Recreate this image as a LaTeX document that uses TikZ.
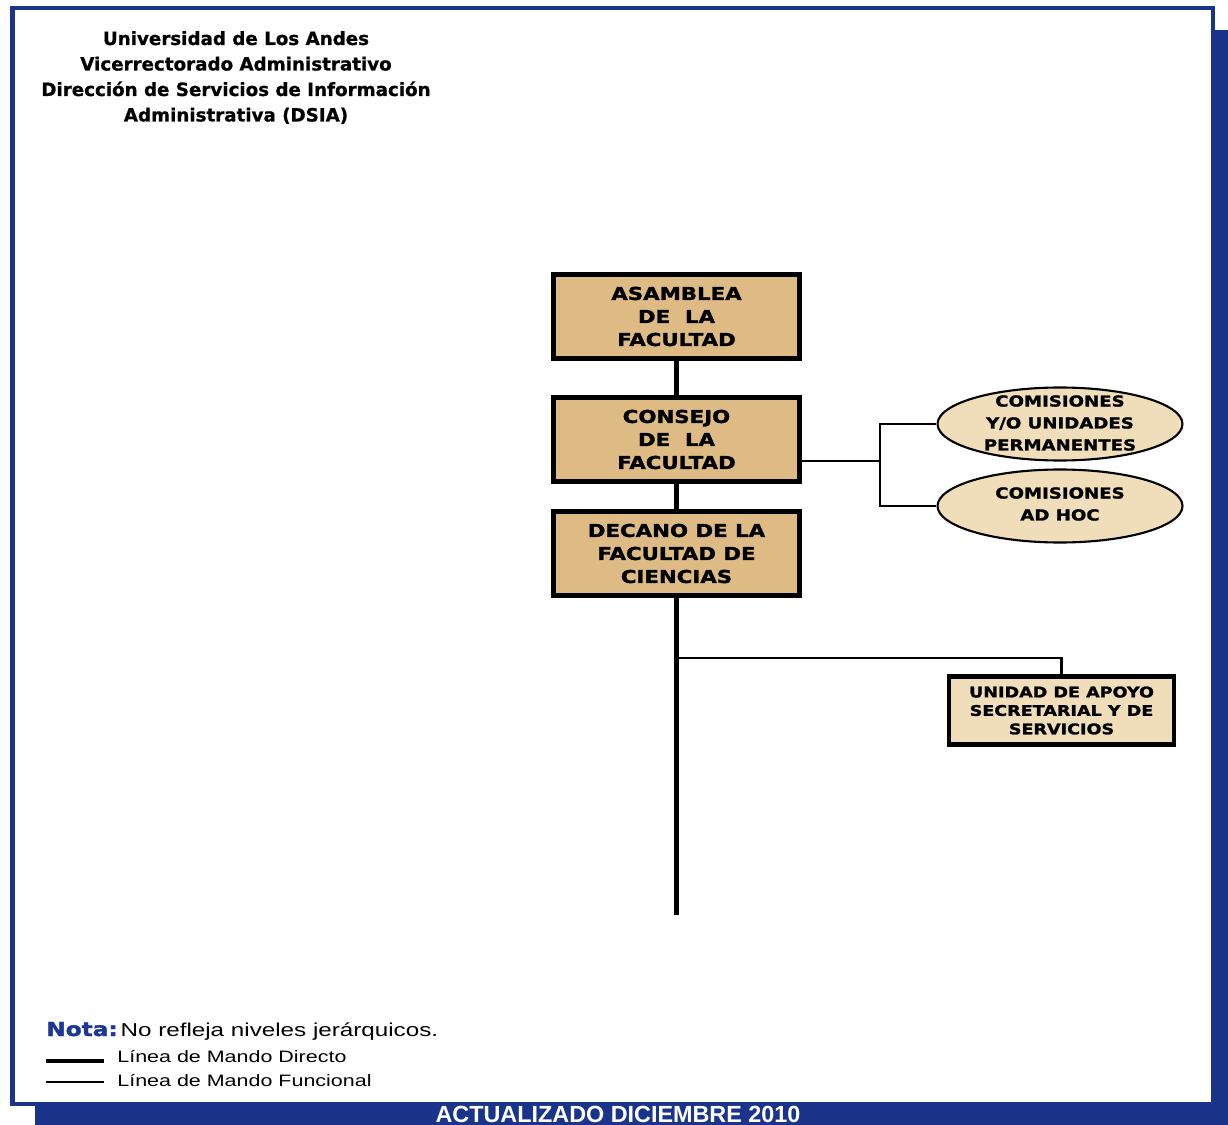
\documentclass[tikz,border=0pt]{standalone}
\usepackage{fontspec}
\setmainfont{Liberation Sans}
\newfontfamily\boxfont{DejaVu Sans}[FakeStretch=1.2,FakeBold=1.6]
\newfontfamily\headfont{DejaVu Sans}[FakeBold=0.8]
\newfontfamily\notefont{Liberation Sans}[FakeStretch=1.3]
\newfontfamily\footfont{Liberation Sans}
\usetikzlibrary{shapes.geometric}
\definecolor{frameblue}{RGB}{26,52,140}
\definecolor{notablue}{RGB}{30,55,150}
\definecolor{boxtan}{RGB}{222,187,132}
\definecolor{lighttan}{RGB}{240,222,186}

\begin{document}
\begin{tikzpicture}[x=0.02cm,y=-0.02cm,
  mainbox/.style={draw=black, line width=2.8pt, fill=boxtan,
    minimum width=4.92cm, minimum height=1.68cm, inner sep=0pt,
    align=center, font=\boxfont\bfseries\fontsize{10.1pt}{13.1pt}\selectfont},
  sidebox/.style={draw=black, line width=2.8pt, fill=lighttan,
    minimum width=4.5cm, minimum height=1.36cm, inner sep=0pt,
    align=center, font=\boxfont\bfseries\fontsize{8.33pt}{10.5pt}\selectfont},
  commission/.style={ellipse, draw=black, line width=1.2pt, fill=lighttan,
    minimum width=4.9cm, minimum height=1.46cm, inner sep=0pt},
  commtext/.style={align=center, inner sep=0pt,
    font=\boxfont\bfseries\fontsize{8.6pt}{12.5pt}\selectfont},
  direct/.style={line width=3.4pt, black},
  functional/.style={line width=1.3pt, black},
  headline/.style={anchor=base, inner sep=0pt,
    font=\headfont\bfseries\fontsize{10.4pt}{14.5pt}\selectfont},
  legendtext/.style={anchor=base west, inner sep=0pt,
    font=\notefont\fontsize{9.4pt}{11pt}\selectfont}
]
% page and its blue drop shadow
\useasboundingbox (0,0) rectangle (1228,1125);
\fill[white] (0,0) rectangle (1228,1125);
\fill[frameblue] (35,30) rectangle (1228,1125);
\draw[frameblue, line width=2.3pt, fill=white] (12.5,8) rectangle (1213,1104);

% heading
\node[headline] (h1) at (236,45) {Universidad de Los Andes};
\node[headline] (h2) at (236,70.5) {Vicerrectorado Administrativo};
\node[headline] (h3) at (236,96) {Dirección de Servicios de Información};
\node[headline] (h4) at (236,121.5) {Administrativa (DSIA)};

% main chain
\node[mainbox] (asamblea) at (676.5,316.5) {ASAMBLEA\\DE\ \ LA\\FACULTAD};
\node[mainbox] (consejo) at (676.5,439.5) {CONSEJO\\DE\ \ LA\\FACULTAD};
\node[mainbox] (decano) at (676.5,553.5) {DECANO DE LA\\FACULTAD DE\\CIENCIAS};

% commissions
\node[commission] (perm) at (1060,424) {};
\node[commtext] (permtext) at (1060,423) {COMISIONES\\Y/O UNIDADES\\PERMANENTES};
\node[commission] (adhoc) at (1060,506) {};
\node[commtext] (adhoctext) at (1060,504) {COMISIONES\\AD HOC};

% support unit
\node[sidebox] (apoyo) at (1061.5,710.5) {UNIDAD DE APOYO\\SECRETARIAL Y DE\\SERVICIOS};

% connectors
\coordinate (fin) at (676.5,915);
\coordinate (split) at (880,461);
\coordinate (branch) at (676.5,658);
\draw[direct] (asamblea.south) -- (consejo.north);
\draw[direct] (consejo.south) -- (decano.north);
\draw[direct] (decano.south) -- (fin);
\draw[functional] (consejo.east |- split) -- (split);
\draw[functional] (perm.west) -| (split) |- (adhoc.west);
\draw[functional] (branch) -| (apoyo.north);

% note and legend
\node[anchor=base west, inner sep=0pt] (nota) at (46,1036)
  {{\boxfont\bfseries\fontsize{11pt}{13pt}\selectfont\color{notablue}Nota:}\,{\notefont\fontsize{10.6pt}{12pt}\selectfont No refleja niveles jerárquicos.}};
\coordinate (d1) at (46,1061);
\coordinate (d2) at (104,1061);
\coordinate (f1) at (46,1082);
\coordinate (f2) at (104,1082);
\draw[line width=2.4pt] (d1) -- (d2);
\draw[line width=1.1pt] (f1) -- (f2);
\node[legendtext] (ldirect) at (117,1062) {Línea de Mando Directo};
\node[legendtext] (lfunc) at (117,1086) {Línea de Mando Funcional};

% footer band text
\node[anchor=base, inner sep=0pt, text=white,
  font=\footfont\bfseries\fontsize{13.3pt}{15pt}\selectfont] (footer) at (618,1122)
  {ACTUALIZADO DICIEMBRE 2010};
\end{tikzpicture}
\end{document}
